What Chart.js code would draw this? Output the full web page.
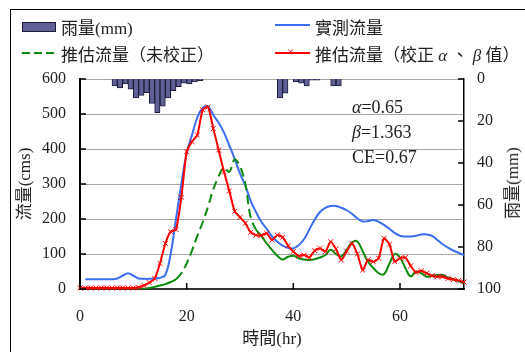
<!DOCTYPE html>
<html>
<head>
<meta charset="utf-8">
<script src="https://cdn.jsdelivr.net/npm/chart.js@4.4.0/dist/chart.umd.min.js"></script>
<style>
  body { margin: 0; background: #fff; }
  #wrap { position: relative; width: 525px; height: 352px; overflow: hidden;
          font-family: 'Liberation Serif', 'Noto Sans CJK TC', serif; color: #222; }
  #frame { position: absolute; left: 10px; top: 9px; width: 600px; height: 400px; border: 1px solid #000; }
  canvas { position: absolute; left: 0; top: 0; }
  .lg { position: absolute; font-size: 17px; line-height: 18px; white-space: nowrap; }
  .sym { position: absolute; }
  .note { position: absolute; left: 352px; font-size: 18px; line-height: 20px; white-space: nowrap; }
</style>
</head>
<body>
<div id="wrap">
  <div id="frame"></div>
  <canvas id="chart" width="525" height="352"></canvas>

  <!-- legend -->
  <div class="sym" style="left:22px;top:22px;width:32px;height:8px;background:#5f6096;border:1px solid #1c1c3a;"></div>
  <div class="lg" style="left:61px;top:20px;">雨量(mm)</div>
  <div class="sym" style="left:275px;top:24px;width:35px;height:2px;background:#3a6df0;"></div>
  <div class="lg" style="left:315px;top:20px;">實測流量</div>
  <div class="sym" style="left:22px;top:52px;width:33px;height:2px;background:repeating-linear-gradient(90deg,#0a8a0a 0 8px,transparent 8px 12px);"></div>
  <div class="lg" style="left:61px;top:47px;">推估流量（未校正）</div>
  <div class="sym" style="left:275px;top:52px;width:35px;height:2px;background:#ff0000;"></div>
  <div class="sym" style="left:287px;top:44px;font-size:13px;line-height:16px;color:#ff0000;">×</div>
  <div class="lg" style="left:315px;top:47px;">推估流量（校正 <i>α</i> 、 <i>β</i> 值）</div>

  <!-- right axis title -->
  <div class="lg" style="left:513px;top:183px;transform:translate(-50%,-50%) rotate(-90deg);">雨量(mm)</div>

  <!-- parameters -->
  <div class="note" style="top:97px;"><i>α</i>=0.65</div>
  <div class="note" style="top:122px;"><i>β</i>=1.363</div>
  <div class="note" style="top:147px;">CE=0.67</div>
</div>

<script>
// hourly rainfall (bars hang from the top, right axis)
const rainHours = [6.5, 7.5, 8.5, 9.5, 10.5, 11.5, 12.5, 13.5, 14.5, 15.5, 16.5, 17.5, 18.5, 19.5, 20.5, 21.5, 22.5,
                   37.5, 38.5, 39.5, 40.5, 41.5, 42.5, 43.5, 44.5, 45.5, 46.5, 47.5, 48.5];
const rainMm = [3.3, 4.3, 2.4, 4.8, 9, 7.8, 6.5, 11.6, 16, 12.9, 9, 5.6, 3.7, 2, 2.4, 1.4, 0.8,
                9, 6.8, 0, 1.4, 2, 3.3, 0.5, 0.5, 0, 0, 3.3, 3.3];

// observed discharge
const obsHours = [1, 2, 3, 4, 5, 6, 7, 8, 9, 10, 11, 12, 13, 14, 15, 16, 17, 18, 19, 20, 21, 22, 23, 24,
                  25, 26, 27, 28, 29, 30, 31, 32, 33, 34, 35, 36, 37, 38, 39, 40, 41, 42, 43, 44, 45, 46, 47, 48,
                  49, 50, 51, 52, 53, 54, 55, 56, 57, 58, 59, 60, 61, 62, 63, 64, 65, 66, 67, 68, 69, 70, 71, 72];
const obsFlow = [28, 28, 28, 28, 28, 28, 30, 38, 45, 38, 30, 29, 29, 30, 32, 40, 100, 200, 300, 388, 440, 490, 517, 522,
                 497, 475, 447, 410, 372, 330, 295, 252, 220, 192, 172, 150, 135, 124, 118, 116, 125, 142, 170, 198,
                 220, 232, 237, 237, 232, 225, 215, 202, 193, 194, 197, 192, 183, 172, 160, 152, 150, 150, 152, 156,
                 156, 152, 140, 128, 118, 110, 103, 97];

// simulated discharge, hours 0..72
const simHours = [0, 1, 2, 3, 4, 5, 6, 7, 8, 9, 10, 11, 12, 13, 14, 15, 16, 17, 18, 19, 20, 21, 22, 23, 24,
                  25, 26, 27, 28, 29, 30, 31, 32, 33, 34, 35, 36, 37, 38, 39, 40, 41, 42, 43, 44, 45, 46, 47, 48,
                  49, 50, 51, 52, 53, 54, 55, 56, 57, 58, 59, 60, 61, 62, 63, 64, 65, 66, 67, 68, 69, 70, 71, 72];
const simRaw = [0, 0, 0, 0, 0, 0, 0, 0, 0, 0, 0, 0, 1, 3, 6, 10, 14, 20, 28, 45, 73, 110, 152, 190, 235,
                285, 322, 347, 335, 370, 350, 300, 205, 170, 152, 130, 112, 95, 84, 92, 95, 88, 84, 83, 85,
                90, 97, 112, 100, 93, 112, 133, 136, 108, 78, 60, 45, 42, 72, 100, 90, 60, 36, 50, 45,
                35, 38, 40, 40, 33, 28, 22, 18];
const simCal = [3, 3, 3, 3, 3, 3, 3, 3, 3, 3, 3, 5, 10, 18, 30, 73, 130, 164, 170, 262, 392, 421, 440, 512, 520,
                458, 397, 335, 280, 222, 205, 188, 162, 154, 153, 159, 140, 154, 148, 124, 107, 94, 97, 90, 110,
                116, 107, 135, 114, 83, 108, 130, 100, 54, 83, 78, 88, 145, 128, 78, 88, 90, 66, 47, 52,
                45, 38, 35, 35, 30, 27, 24, 20];

const xTicks = [0, 20, 40, 60];

const fontFamily = "'Liberation Serif', 'Noto Sans CJK TC', serif";
Chart.defaults.font.family = fontFamily;
Chart.defaults.font.size = 16;
Chart.defaults.color = '#222';

const toPoints = (xs, ys) => xs.map((x, i) => ({ x: x, y: ys[i] }));

// tick marks pointing into the plot area
const innerTicks = {
    id: 'innerTicks',
    afterDraw(chart) {
        const { ctx, chartArea: a, scales } = chart;
        ctx.save();
        ctx.strokeStyle = '#000';
        ctx.lineWidth = 1.5;
        ctx.beginPath();
        scales.y.ticks.forEach(t => {
            const py = scales.y.getPixelForValue(t.value);
            ctx.moveTo(a.left, py); ctx.lineTo(a.left + 6, py);
        });
        scales.y2.ticks.forEach(t => {
            const py = scales.y2.getPixelForValue(t.value);
            ctx.moveTo(a.right - 6, py); ctx.lineTo(a.right, py);
        });
        scales.x.ticks.forEach(t => {
            const px = scales.x.getPixelForValue(t.value);
            ctx.moveTo(px, a.bottom); ctx.lineTo(px, a.bottom - 6);
        });
        ctx.stroke();
        ctx.restore();
    }
};

new Chart(document.getElementById('chart').getContext('2d'), {
    data: {
        datasets: [{
            type: 'bar',
            label: '雨量(mm)',
            yAxisID: 'y2',
            data: toPoints(rainHours, rainMm),
            backgroundColor: '#5f6096',
            borderColor: '#1c1c3a',
            borderWidth: 1,
            barPercentage: 1,
            categoryPercentage: 1,
            order: 4
        }, {
            type: 'line',
            label: '實測流量',
            yAxisID: 'y',
            data: toPoints(obsHours, obsFlow),
            borderColor: '#3a6df0',
            borderWidth: 2,
            pointRadius: 0,
            tension: 0.4,
            order: 3
        }, {
            type: 'line',
            label: '推估流量（未校正）',
            yAxisID: 'y',
            data: toPoints(simHours, simRaw),
            borderColor: '#0a8a0a',
            borderWidth: 2,
            pointRadius: 0,
            tension: 0.4,
            segment: {
                // steep part shows as dashes, flat part looks solid
                borderDash: ctx => (ctx.p0.parsed.x >= 18 && ctx.p1.parsed.x <= 33) ? [9, 5] : undefined
            },
            order: 2
        }, {
            type: 'line',
            label: '推估流量（校正α、β值）',
            yAxisID: 'y',
            data: toPoints(simHours, simCal),
            borderColor: '#ff0000',
            borderWidth: 2,
            pointStyle: 'crossRot',
            pointRadius: 3.5,
            pointBorderColor: '#ff0000',
            pointBorderWidth: 1,
            tension: 0.2,
            clip: false,
            order: 1
        }]
    },
    options: {
        responsive: false,
        animation: false,
        layout: { padding: { top: 79, left: 0, right: 0, bottom: 0 } },
        plugins: { legend: { display: false }, tooltip: { enabled: false } },
        scales: {
            x: {
                type: 'linear',
                min: 0,
                max: 72,
                offset: false,
                afterBuildTicks: s => { s.ticks = xTicks.map(v => ({ value: v })); },
                afterFit: s => { s.height = 63; },
                grid: { display: false, drawTicks: false, offset: false },
                border: { color: '#333', width: 2 },
                ticks: { padding: 18 },
                title: { display: true, text: '時間(hr)', font: { size: 17 }, padding: { top: 0, bottom: 2 } }
            },
            y: {
                position: 'left',
                min: 0,
                max: 600,
                afterFit: s => { s.width = 80; },
                ticks: { stepSize: 100, padding: 14 },
                grid: { color: '#a6a6a6', drawTicks: false },
                border: { color: '#000', width: 2 },
                title: { display: true, text: '流量(cms)', font: { size: 17 }, padding: { top: 15, bottom: 0 } }
            },
            y2: {
                position: 'right',
                min: 0,
                max: 100,
                reverse: true,
                afterFit: s => { s.width = 61; },
                ticks: { stepSize: 20, padding: 13 },
                grid: { display: false, drawTicks: false },
                border: { color: '#000', width: 1.5 }
            }
        }
    },
    plugins: [innerTicks]
});
</script>
</body>
</html>
